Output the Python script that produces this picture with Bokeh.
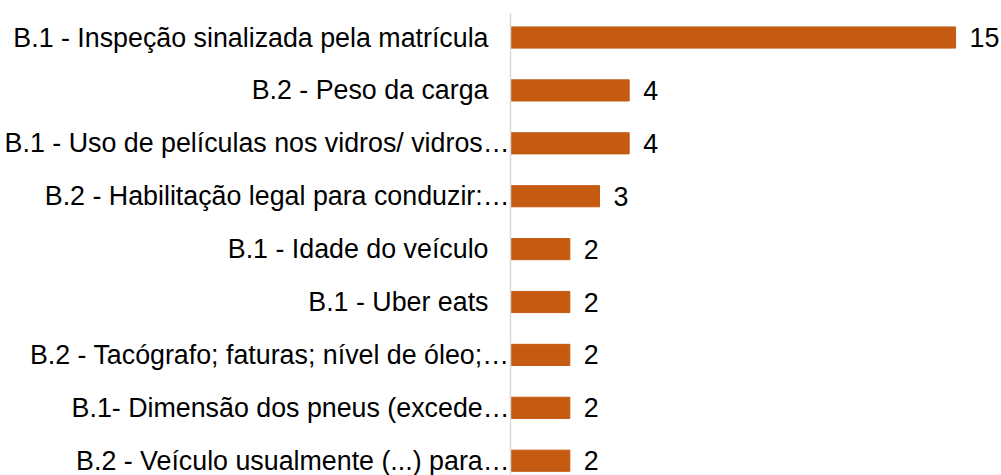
from bokeh.plotting import figure
from bokeh.models import ColumnDataSource, Range1d, Span
from bokeh.core.properties import value
from bokeh.embed import file_html
from bokeh.resources import INLINE

categories = [
    "B.1 - Inspeção sinalizada pela matrícula",
    "B.2 - Peso da carga",
    "B.1 - Uso de películas nos vidros/ vidros…",
    "B.2 - Habilitação legal para conduzir:…",
    "B.1 - Idade do veículo",
    "B.1 - Uber eats",
    "B.2 - Tacógrafo; faturas; nível de óleo;…",
    "B.1- Dimensão dos pneus (excede…",
    "B.2 - Veículo usualmente (...) para…",
]
counts = [15, 4, 4, 3, 2, 2, 2, 2, 2]

BAR_COLOR = "#C55A11"
FONT = value("Liberation Sans")
PX_PER_UNIT = 29.67
LEFT_PX = 510
W, H = 1001, 475
ROW_PX = 52.9
TOP_BORDER = 12

pos = list(range(len(categories)))
label_offset = [-1 if c.endswith("…") else -22 for c in categories]
src = ColumnDataSource(dict(
    y=pos, cnt=counts, cat=categories, zero=[0] * len(pos),
    loff=label_offset, txt=[str(c) for c in counts],
))

frame_h = H - TOP_BORDER
y_top = -0.473
y_bot = y_top + frame_h / ROW_PX
x_left = -LEFT_PX / PX_PER_UNIT
x_right = (W - LEFT_PX) / PX_PER_UNIT

p = figure(width=W, height=H, output_backend="svg", toolbar_location=None,
           x_range=Range1d(x_left, x_right), y_range=Range1d(y_bot, y_top),
           min_border_left=0, min_border_right=0, min_border_top=TOP_BORDER,
           min_border_bottom=0)
p.axis.visible = False
p.grid.visible = False
p.outline_line_color = None
p.background_fill_color = "white"
p.border_fill_color = "white"

p.add_layout(Span(location=0, dimension="height", line_color="#D9D9D9", line_width=1.5))

p.hbar(y="y", left="zero", right="cnt", height=0.40, source=src,
       fill_color=BAR_COLOR, line_color=BAR_COLOR)

p.text(x="zero", y="y", text="cat", source=src, x_offset="loff",
       text_align="right", text_baseline="middle", text_font=FONT,
       text_font_size="26.8px", text_color="#000000")
p.text(x="cnt", y="y", text="txt", source=src, x_offset=14,
       text_align="left", text_baseline="middle", text_font=FONT,
       text_font_size="26.8px", text_color="#000000")

open("out.html", "w").write(file_html(p, INLINE))
